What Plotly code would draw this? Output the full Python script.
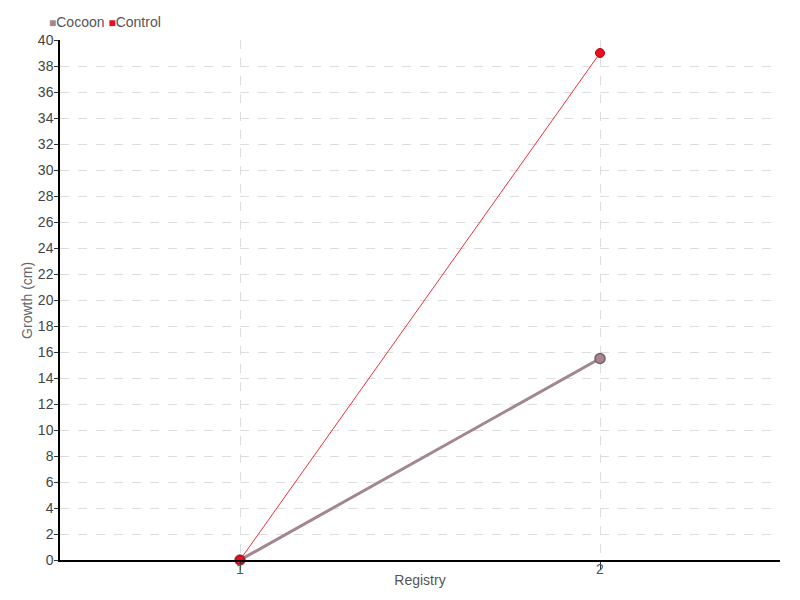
import plotly.graph_objects as go

registry = [1, 2]
cocoon = [0, 15.5]
control = [0, 39]
series_names = ["Cocoon", "Control"]

FONT = "Liberation Sans, Arial, sans-serif"
COCOON_COLOR = "#a3868e"
CONTROL_COLOR = "#e8101e"

fig = go.Figure()
fig.add_trace(go.Scatter(
    x=registry, y=cocoon, mode="lines+markers", name=series_names[0], showlegend=False,
    cliponaxis=False,
    line=dict(color=COCOON_COLOR, width=3),
    marker=dict(size=10, color=COCOON_COLOR, line=dict(color="#7a5e66", width=1.5)),
))
fig.add_trace(go.Scatter(
    x=registry, y=control, mode="lines+markers", name=series_names[1], showlegend=False,
    cliponaxis=False,
    line=dict(color="#f0303c", width=1),
    marker=dict(size=9, color=CONTROL_COLOR, line=dict(color="#c00010", width=1)),
))

legend_text = (f"<span style='color:{COCOON_COLOR};font-size:12px'>■</span>{series_names[0]} "
               f"<span style='color:{CONTROL_COLOR};font-size:12px'>■</span>{series_names[1]}")
fig.add_annotation(text=legend_text, xref="paper", yref="paper",
                   x=-0.018, xanchor="left", y=1.0, yanchor="bottom", yshift=8,
                   showarrow=False, font=dict(size=14, color="#555555"))
fig.add_annotation(text="Growth (cm)", xref="paper", yref="paper", textangle=-90,
                   x=-0.046, xanchor="center", y=0.5, yanchor="middle",
                   showarrow=False, font=dict(size=14, color="#666666"))

fig.update_layout(
    width=792, height=592,
    margin=dict(l=52, r=20, t=32, b=40, autoexpand=False),
    paper_bgcolor="white", plot_bgcolor="white",
    font=dict(family=FONT, size=14, color="#555555"),
    showlegend=False,
    xaxis=dict(
        range=[0.5, 2.5], tickvals=registry, ticktext=[str(v) for v in registry],
        showline=True, linecolor="black", linewidth=1.5, automargin=False,
        ticks="outside", ticklen=8, tickcolor="#333", ticklabelstandoff=-13,
        showgrid=True, gridcolor="#dddddd", griddash="dash", zeroline=False,
        title=dict(text="Registry", standoff=0, font=dict(size=14, color="#555555")),
        tickfont=dict(size=14, color="#555555"),
    ),
    yaxis=dict(
        range=[0, 40], dtick=2, tick0=0, automargin=False,
        showline=True, linecolor="black", linewidth=1.5,
        ticks="outside", ticklen=4, tickcolor="#333", ticklabelstandoff=-2,
        showgrid=True, gridcolor="#dddddd", griddash="dash", zeroline=False,
        tickfont=dict(size=14, color="#444444"),
    ),
)

fig.write_html("out.html")
